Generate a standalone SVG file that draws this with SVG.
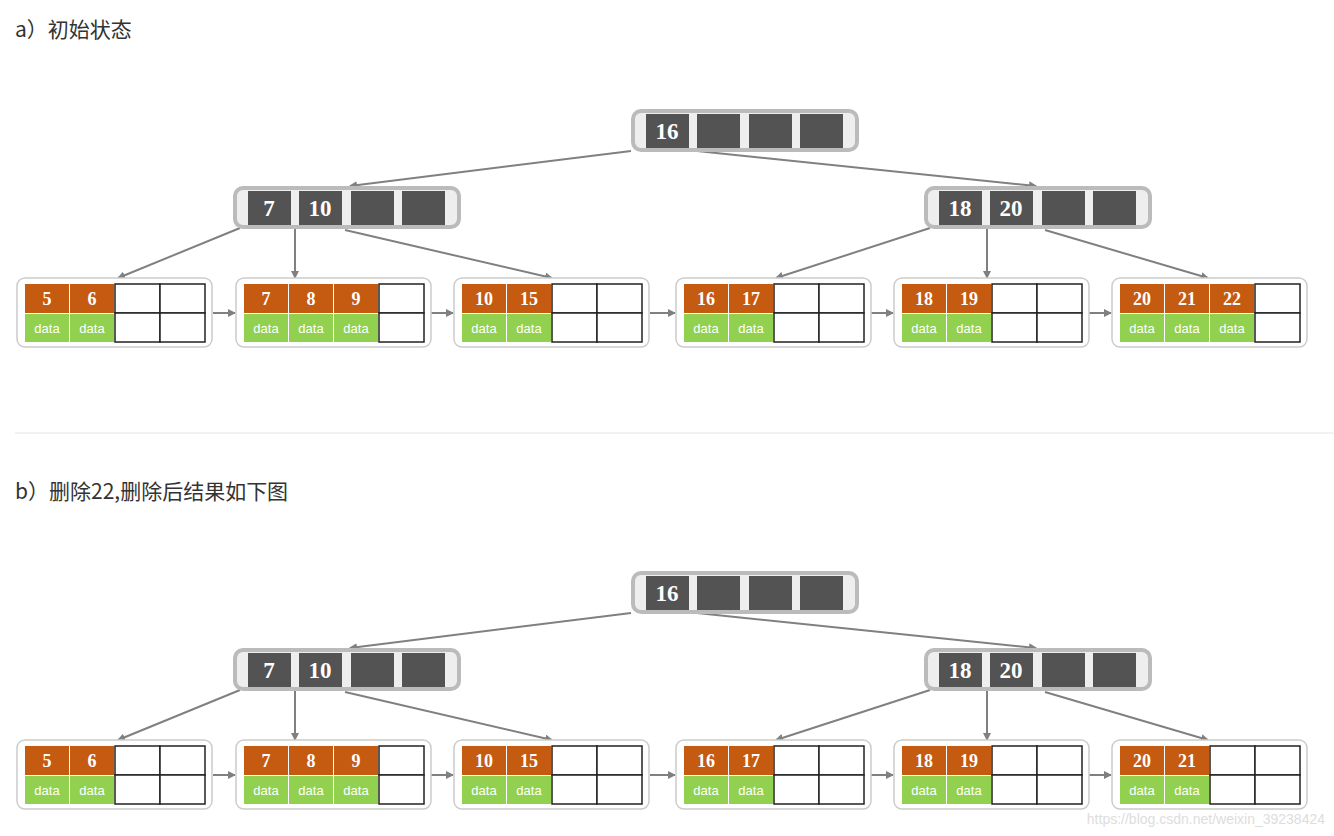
<svg xmlns="http://www.w3.org/2000/svg" width="1334" height="836" viewBox="0 0 1334 836">
<style>
.t{font-family:"Noto Sans CJK SC","Noto Sans",sans-serif;font-size:21px;fill:#333}
.in{fill:#eee;stroke:#bbb;stroke-width:4}
.ic{fill:#535353}
.ik{font-family:"Liberation Serif",serif;font-weight:bold;font-size:23px;fill:#fff;text-anchor:middle}
.lf{fill:#fff;stroke:#ccc;stroke-width:1.5}
.o{fill:#c55a11}
.g{fill:#92d050}
.e{fill:#fff;stroke:#222;stroke-width:1.5}
.lk{font-family:"Liberation Serif",serif;font-weight:bold;font-size:18px;fill:#fff;text-anchor:middle}
.d{font-family:"Liberation Sans",sans-serif;font-size:13px;fill:#fff;text-anchor:middle}
.c{stroke:#808080;stroke-width:2;fill:none;marker-end:url(#a)}
</style>
<defs>
<marker id="a" markerWidth="8" markerHeight="8" refX="7" refY="4" orient="auto" markerUnits="userSpaceOnUse" viewBox="0 0 8 8"><path d="M0,0L8,4L0,8z" fill="#808080"/></marker>
<g id="inode"><rect class="in" x="2" y="2" width="224" height="39" rx="8"/><rect class="ic" x="15" y="5" width="43" height="34"/><rect class="ic" x="66" y="5" width="43" height="34"/><rect class="ic" x="118" y="5" width="43" height="34"/><rect class="ic" x="169" y="5" width="43" height="34"/></g>
<g id="leafbox"><rect class="lf" x="0" y="0" width="195" height="69" rx="8"/></g>
<g id="oc"><rect class="o" x="0" y="6" width="44" height="29"/><rect class="g" x="0" y="36" width="44" height="28"/><text class="d" x="22" y="55">data</text></g>
<g id="ec"><rect class="e" x="0" y="6" width="45" height="29"/><rect class="e" x="0" y="35" width="45" height="29"/></g>
</defs>
<text class="t" x="15" y="37">a）初始状态</text>
<text class="t" x="15" y="499">b）删除22,删除后结果如下图</text>
<line x1="15" y1="433" x2="1334" y2="433" stroke="#e5e5e5" stroke-width="1"/>
<g id="connectors">
<g id="ca">
<line class="c" x1="631" y1="151" x2="350" y2="186"/>
<line class="c" x1="697" y1="151" x2="1036" y2="186"/>
<line class="c" x1="240" y1="228" x2="118" y2="278"/>
<line class="c" x1="295" y1="229" x2="295" y2="278"/>
<line class="c" x1="345" y1="230" x2="552" y2="278"/>
<line class="c" x1="930" y1="228" x2="776" y2="278"/>
<line class="c" x1="987" y1="229" x2="987" y2="278"/>
<line class="c" x1="1045" y1="230" x2="1208" y2="278"/>
<line class="c" x1="213" y1="313" x2="235" y2="313"/>
<line class="c" x1="431" y1="313" x2="453" y2="313"/>
<line class="c" x1="650" y1="313" x2="675" y2="313"/>
<line class="c" x1="871" y1="313" x2="893" y2="313"/>
<line class="c" x1="1089" y1="313" x2="1111" y2="313"/>
</g>
<use href="#ca" y="462"/>
</g>
<g id="treeA">
<g id="rootA" transform="translate(631,109)"><use href="#inode"/><text class="ik" x="36" y="30">16</text></g>
<g id="i1A" transform="translate(233,186)"><use href="#inode"/><text class="ik" x="36" y="30">7</text><text class="ik" x="87" y="30">10</text></g>
<g id="i2A" transform="translate(924,186)"><use href="#inode"/><text class="ik" x="36" y="30">18</text><text class="ik" x="87" y="30">20</text></g>
<g id="l1A" transform="translate(17,278)"><use href="#leafbox"/><use href="#oc" x="8"/><use href="#oc" x="53"/><use href="#ec" x="98"/><use href="#ec" x="143"/><text class="lk" x="30" y="27">5</text><text class="lk" x="75" y="27">6</text></g>
<g id="l2A" transform="translate(236,278)"><use href="#leafbox"/><use href="#oc" x="8"/><use href="#oc" x="53"/><use href="#oc" x="98"/><use href="#ec" x="143"/><text class="lk" x="30" y="27">7</text><text class="lk" x="75" y="27">8</text><text class="lk" x="120" y="27">9</text></g>
<g id="l3A" transform="translate(454,278)"><use href="#leafbox"/><use href="#oc" x="8"/><use href="#oc" x="53"/><use href="#ec" x="98"/><use href="#ec" x="143"/><text class="lk" x="30" y="27">10</text><text class="lk" x="75" y="27">15</text></g>
<g id="l4A" transform="translate(676,278)"><use href="#leafbox"/><use href="#oc" x="8"/><use href="#oc" x="53"/><use href="#ec" x="98"/><use href="#ec" x="143"/><text class="lk" x="30" y="27">16</text><text class="lk" x="75" y="27">17</text></g>
<g id="l5A" transform="translate(894,278)"><use href="#leafbox"/><use href="#oc" x="8"/><use href="#oc" x="53"/><use href="#ec" x="98"/><use href="#ec" x="143"/><text class="lk" x="30" y="27">18</text><text class="lk" x="75" y="27">19</text></g>
<g id="l6A" transform="translate(1112,278)"><use href="#leafbox"/><use href="#oc" x="8"/><use href="#oc" x="53"/><use href="#oc" x="98"/><use href="#ec" x="143"/><text class="lk" x="30" y="27">20</text><text class="lk" x="75" y="27">21</text><text class="lk" x="120" y="27">22</text></g>
</g>
<g id="treeB">
<g id="rootB" transform="translate(631,571)"><use href="#inode"/><text class="ik" x="36" y="30">16</text></g>
<g id="i1B" transform="translate(233,648)"><use href="#inode"/><text class="ik" x="36" y="30">7</text><text class="ik" x="87" y="30">10</text></g>
<g id="i2B" transform="translate(924,648)"><use href="#inode"/><text class="ik" x="36" y="30">18</text><text class="ik" x="87" y="30">20</text></g>
<g id="l1B" transform="translate(17,740)"><use href="#leafbox"/><use href="#oc" x="8"/><use href="#oc" x="53"/><use href="#ec" x="98"/><use href="#ec" x="143"/><text class="lk" x="30" y="27">5</text><text class="lk" x="75" y="27">6</text></g>
<g id="l2B" transform="translate(236,740)"><use href="#leafbox"/><use href="#oc" x="8"/><use href="#oc" x="53"/><use href="#oc" x="98"/><use href="#ec" x="143"/><text class="lk" x="30" y="27">7</text><text class="lk" x="75" y="27">8</text><text class="lk" x="120" y="27">9</text></g>
<g id="l3B" transform="translate(454,740)"><use href="#leafbox"/><use href="#oc" x="8"/><use href="#oc" x="53"/><use href="#ec" x="98"/><use href="#ec" x="143"/><text class="lk" x="30" y="27">10</text><text class="lk" x="75" y="27">15</text></g>
<g id="l4B" transform="translate(676,740)"><use href="#leafbox"/><use href="#oc" x="8"/><use href="#oc" x="53"/><use href="#ec" x="98"/><use href="#ec" x="143"/><text class="lk" x="30" y="27">16</text><text class="lk" x="75" y="27">17</text></g>
<g id="l5B" transform="translate(894,740)"><use href="#leafbox"/><use href="#oc" x="8"/><use href="#oc" x="53"/><use href="#ec" x="98"/><use href="#ec" x="143"/><text class="lk" x="30" y="27">18</text><text class="lk" x="75" y="27">19</text></g>
<g id="l6B" transform="translate(1112,740)"><use href="#leafbox"/><use href="#oc" x="8"/><use href="#oc" x="53"/><use href="#ec" x="98"/><use href="#ec" x="143"/><text class="lk" x="30" y="27">20</text><text class="lk" x="75" y="27">21</text></g>
</g>
<text x="1325" y="824" text-anchor="end" style="font-family:'Liberation Sans',sans-serif;font-size:14px;fill:#ddd">https://blog.csdn.net/weixin_39238424</text>
</svg>
